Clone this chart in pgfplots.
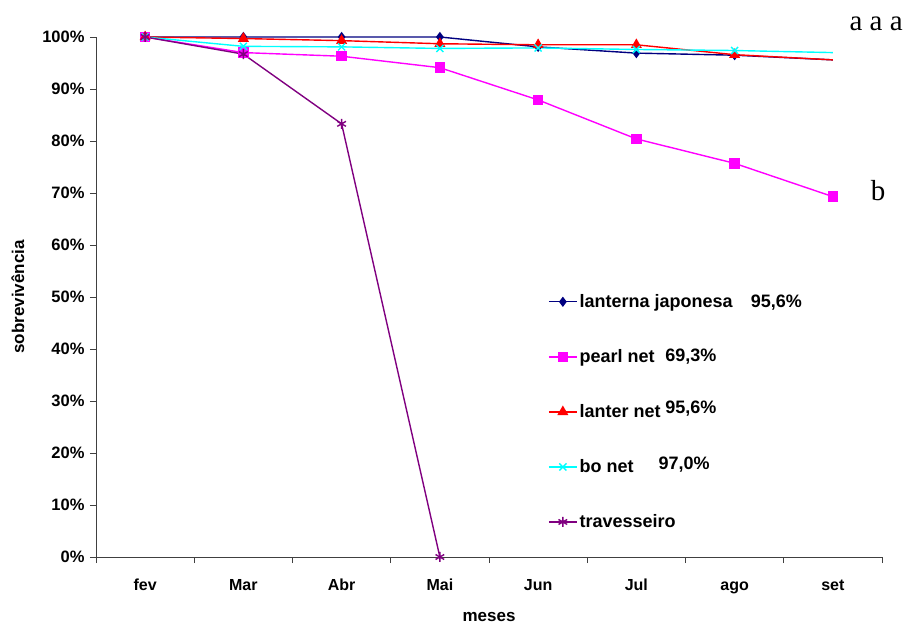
\documentclass[border=0pt]{standalone}
\usepackage{fontspec}
\setmainfont{Liberation Sans}
\newfontfamily\serif{Liberation Serif}
\usepackage{pgfplots}
\pgfplotsset{compat=1.18}
\definecolor{navyc}{RGB}{0,0,128}
\definecolor{magc}{RGB}{255,0,255}
\definecolor{redc}{RGB}{255,0,0}
\definecolor{cyanc}{RGB}{0,255,255}
\definecolor{purc}{RGB}{128,0,128}
\begin{document}
\begin{tikzpicture}
\useasboundingbox (-96pt,-67pt) rectangle (815pt,557pt);
\begin{axis}[
    at={(0pt,0pt)}, anchor=south west,
    scale only axis, width=786pt, height=520pt,
    xmin=-0.5, xmax=7.5, ymin=0, ymax=100,
    clip=false,
    axis lines=left,
    axis line style={-, black!75, line width=0.8pt},
    tick align=outside,
    tick style={black!75, line width=0.8pt},
    major tick length=6pt,
    xtick={-0.5,0.5,...,7.5},
    xticklabels={},
    extra x ticks={0,1,2,3,4,5,6,7},
    extra x tick labels={fev,Mar,Abr,Mai,Jun,Jul,ago,set},
    extra x tick style={major tick length=0pt},
    ytick={0,10,...,100},
    yticklabel={\pgfmathprintnumber{\tick}\%},
    /pgf/number format/assume math mode=true,
    yticklabel style={font=\bfseries\fontsize{16.5}{18}\selectfont, xshift=-2pt},
    xticklabel style={font=\bfseries\fontsize{16}{18}\selectfont, text height=11.5pt, text depth=0pt, anchor=north, yshift=-18pt},
    xlabel={meses},
    ylabel={sobrevivência},
    label style={font=\bfseries\fontsize{17}{19}\selectfont},
    xlabel style={yshift=-3pt},
    ylabel style={yshift=11pt},
    legend style={draw=none, fill=none, at={(axis cs:4.10,50.9)}, anchor=north west,
        font=\bfseries\fontsize{18}{20}\selectfont, row sep=36.5pt,
        inner xsep=0pt, inner ysep=0pt,
        nodes={inner xsep=2pt}},
    legend cell align=left,
    legend image code/.code={\draw[mark repeat=2,mark phase=2,#1] plot coordinates {(0pt,0pt) (14pt,0pt) (28pt,0pt)};},
]
\addplot[color=navyc, line width=1.4pt, mark=diamond*, mark size=4pt] coordinates {
    (0,100)(1,100)(2,100)(3,100)(4,98.1)(5,96.9)(6,96.5)
};
\addlegendentry{lanterna japonesa}
\addplot[color=magc, line width=1.4pt, mark=square*, mark size=4.5pt] coordinates {
    (0,100)(1,97.0)(2,96.3)(3,94.1)(4,87.9)(5,80.4)(6,75.7)(7,69.3)
};
\addlegendentry{pearl net}
\addplot[color=redc, line width=1.4pt, mark=triangle*, mark size=5pt] coordinates {
    (0,100)(1,99.7)(2,99.3)(3,98.7)(4,98.5)(5,98.5)(6,96.6)
};
\addlegendentry{lanter net}
\addplot[color=cyanc, line width=1.4pt, mark=x, mark size=5pt] coordinates {
    (0,100)(1,98.2)(2,98.1)(3,97.8)(4,97.9)(5,97.6)(6,97.4)
};
\addlegendentry{bo net}
\addplot[color=purc, line width=1.4pt, mark=asterisk, mark size=5pt] coordinates {
    (0,100)(1,96.7)(2,83.3)(3,0)
};
\addlegendentry{travesseiro}
% last segments (no marker at set)
\addplot[color=navyc, line width=1.4pt, forget plot] coordinates {(6,96.5)(7,95.6)};
\addplot[color=redc, line width=1.4pt, forget plot] coordinates {(6,96.6)(7,95.6)};
\addplot[color=cyanc, line width=1.4pt, forget plot] coordinates {(6,97.4)(7,97.0)};
\node[anchor=west, font=\bfseries\fontsize{18}{20}\selectfont] at (axis cs:6.13,49.0) {95,6\%};
\node[anchor=west, font=\bfseries\fontsize{18}{20}\selectfont] at (axis cs:5.26,38.6) {69,3\%};
\node[anchor=west, font=\bfseries\fontsize{18}{20}\selectfont] at (axis cs:5.26,28.6) {95,6\%};
\node[anchor=west, font=\bfseries\fontsize{18}{20}\selectfont] at (axis cs:5.19,17.8) {97,0\%};
\node[font=\serif\fontsize{29}{32}\selectfont] at (axis cs:7.44,102.5) {a a a};
\node[font=\serif\fontsize{29}{32}\selectfont] at (axis cs:7.46,70.5) {b};
\end{axis}
\end{tikzpicture}
\end{document}
